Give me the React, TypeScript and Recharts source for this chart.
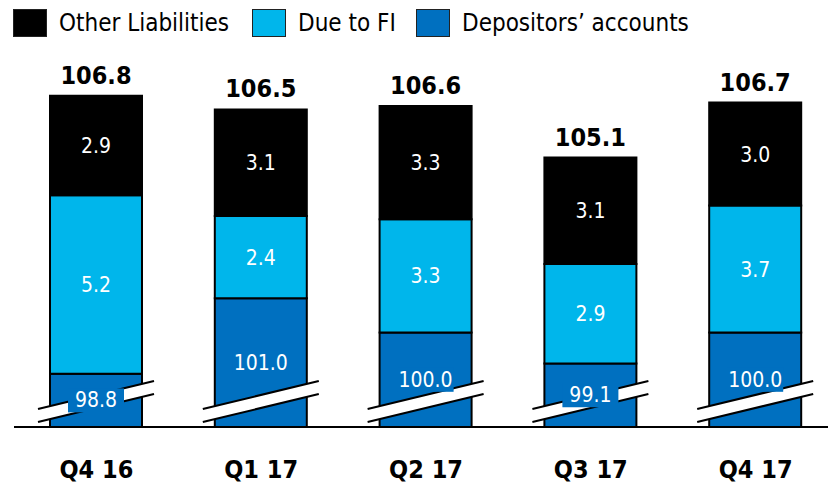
import React from 'react';
import { BarChart, Bar, XAxis, YAxis, LabelList } from 'recharts';

const quarters = ['Q4 16', 'Q1 17', 'Q2 17', 'Q3 17', 'Q4 17'];
const depositors = [98.8, 101.0, 100.0, 99.1, 100.0];
const dueToFI = [5.2, 2.4, 3.3, 2.9, 3.7];
const otherLiabilities = [2.9, 3.1, 3.3, 3.1, 3.0];
const totals = [106.8, 106.5, 106.6, 105.1, 106.7];

const seriesNames = ['Other Liabilities', 'Due to FI', 'Depositors\u2019 accounts'];
const seriesColors = ['#000000', '#00B6EB', '#0070C0'];

// the value axis is cut: bars start at this value, not at zero
const axisFloor = 97.25;
const axisTop = 108;

const data = quarters.map((q, i) => ({
  name: q,
  depositors: depositors[i],
  dueToFI: dueToFI[i],
  other: otherLiabilities[i],
  total: totals[i],
}));

const FONT = "'DejaVu Sans Condensed', 'DejaVu Sans', sans-serif";
const CHART_W = 840;
const CHART_H = 482;
const MARGIN = { top: 58, right: 2, bottom: 0, left: 14 };
const X_AXIS_H = 55;
const PLOT_BOTTOM = CHART_H - MARGIN.bottom - X_AXIS_H;

const fmt = (v: any) => Number(v).toFixed(1);

// bottom segment, cut at the plot floor, with the "//" break mark across it
const DepositorShape = (props: any) => {
  const { x, y, width, fill } = props;
  const b = PLOT_BOTTOM;
  const x0 = x - 12;
  const x1 = x + width + 12;
  return (
    <g>
      <rect x={x} y={y} width={width} height={b - y + 2} fill={fill} stroke="#000" strokeWidth={2} />
      <path d={`M${x0},${b - 18} L${x1},${b - 46} L${x1},${b - 33} L${x0},${b - 5} Z`} fill="#fff" />
      <line x1={x0} y1={b - 18} x2={x1} y2={b - 46} stroke="#000" strokeWidth={2} />
      <line x1={x0} y1={b - 5} x2={x1} y2={b - 33} stroke="#000" strokeWidth={2} />
    </g>
  );
};

const DepositorLabel = (props: any) => {
  const { x, y, width, value } = props;
  const cx = x + width / 2;
  const cy = (y + PLOT_BOTTOM) / 2;
  return (
    <g>
      <rect x={cx - 28} y={cy - 12} width={56} height={24} fill="#0070C0" />
      <text x={cx} y={cy} textAnchor="middle" dominantBaseline="central" fill="#fff"
        fontSize={21} fontFamily={FONT} style={{ fontStretch: 'condensed' }}>
        {fmt(value)}
      </text>
    </g>
  );
};

const TotalLabel = (props: any) => {
  const { x, y, width, value } = props;
  return (
    <text x={x + width / 2} y={y - 12} textAnchor="middle" fill="#000" fontSize={25}
      fontWeight="bold" fontFamily={FONT} style={{ fontStretch: 'condensed' }}>
      {fmt(value)}
    </text>
  );
};

const QuarterTick = (props: any) => {
  const { x, payload } = props;
  return (
    <text x={x} y={469} textAnchor="middle" dominantBaseline="central" fill="#000" fontSize={25}
      fontWeight="bold" fontFamily={FONT} style={{ fontStretch: 'condensed' }}>
      {payload.value}
    </text>
  );
};

const legendPos = [13, 252, 416];

const App: React.FC = () => {
  const segLabel = {
    fill: '#fff',
    fontSize: 21,
    fontFamily: FONT,
    style: { fontStretch: 'condensed' },
  };

  return (
    <div style={{ position: 'absolute', left: 0, top: 0, width: 828, height: 482, overflow: 'hidden', background: '#fff' }}>
      {seriesNames.map((name, i) => (
        <div key={name} style={{ position: 'absolute', left: legendPos[i], top: 9, display: 'flex', alignItems: 'center', fontFamily: FONT, fontStretch: 'condensed', fontSize: 24, color: '#000', whiteSpace: 'nowrap' }}>
          <div style={{ width: 32, height: 26, background: seriesColors[i], border: '1px solid #222', marginRight: 12 }} />
          <span>{name}</span>
        </div>
      ))}
      <BarChart width={CHART_W} height={CHART_H} data={data} margin={MARGIN} barSize={92}>
        <XAxis dataKey="name" height={X_AXIS_H} axisLine={{ stroke: '#000', strokeWidth: 2 }} tickLine={false} tick={<QuarterTick />} interval={0} />
        <YAxis hide type="number" domain={[axisFloor, axisTop]} allowDataOverflow />
        <Bar dataKey="depositors" stackId="a" fill={seriesColors[2]} shape={<DepositorShape />} isAnimationActive={false}>
          <LabelList dataKey="depositors" content={<DepositorLabel />} />
        </Bar>
        <Bar dataKey="dueToFI" stackId="a" fill={seriesColors[1]} stroke="#000" strokeWidth={2} isAnimationActive={false}>
          <LabelList dataKey="dueToFI" position="center" formatter={fmt} {...segLabel} />
        </Bar>
        <Bar dataKey="other" stackId="a" fill={seriesColors[0]} stroke="#000" strokeWidth={2} isAnimationActive={false}>
          <LabelList dataKey="other" position="center" formatter={fmt} {...segLabel} />
          <LabelList dataKey="total" content={<TotalLabel />} />
        </Bar>
      </BarChart>
    </div>
  );
};

export default App;
